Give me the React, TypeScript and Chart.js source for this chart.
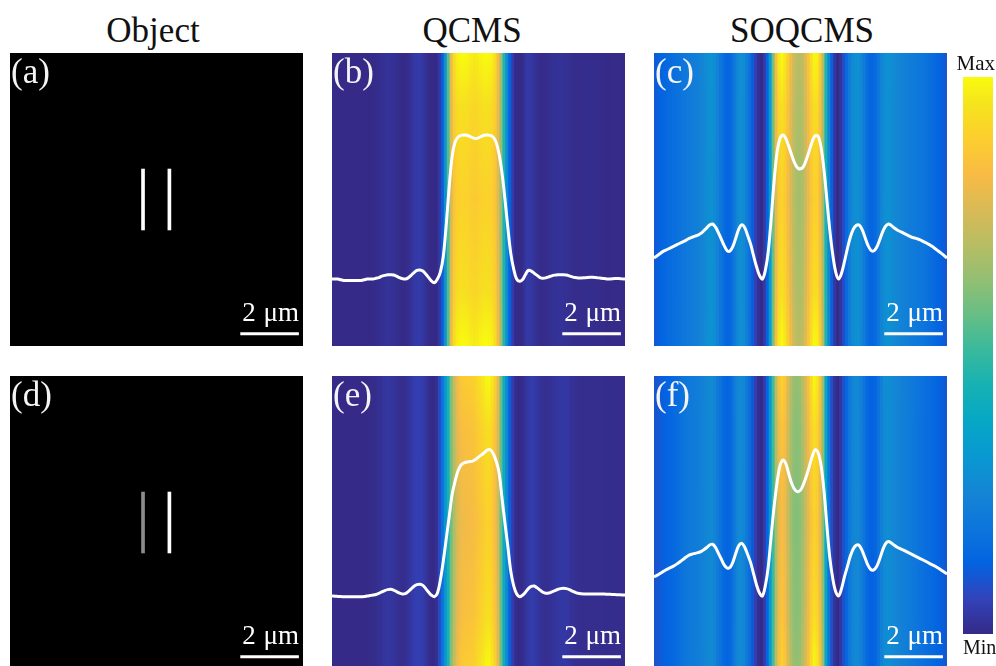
import React, { useEffect, useRef } from "react";
import { Chart, registerables } from "chart.js";

Chart.register(...registerables);

// ---------- DATA ----------
// lateral position in µm, sampled every 0.1 µm across the 10 µm field
const X_UM = [
  -5.0, -4.9, -4.8, -4.7, -4.6, -4.5, -4.4, -4.3, -4.2, -4.1,
  -4.0, -3.9, -3.8, -3.7, -3.6, -3.5, -3.4, -3.3, -3.2, -3.1,
  -3.0, -2.9, -2.8, -2.7, -2.6, -2.5, -2.4, -2.3, -2.2, -2.1,
  -2.0, -1.9, -1.8, -1.7, -1.6, -1.5, -1.4, -1.3, -1.2, -1.1,
  -1.0, -0.9, -0.8, -0.7, -0.6, -0.5, -0.4, -0.3, -0.2, -0.1,
  0.0, 0.1, 0.2, 0.3, 0.4, 0.5, 0.6, 0.7, 0.8, 0.9,
  1.0, 1.1, 1.2, 1.3, 1.4, 1.5, 1.6, 1.7, 1.8, 1.9,
  2.0, 2.1, 2.2, 2.3, 2.4, 2.5, 2.6, 2.7, 2.8, 2.9,
  3.0, 3.1, 3.2, 3.3, 3.4, 3.5, 3.6, 3.7, 3.8, 3.9,
  4.0, 4.1, 4.2, 4.3, 4.4, 4.5, 4.6, 4.7, 4.8, 4.9,
  5.0,
];

// normalized intensity profiles (0 = Min, 1 = Max)
const QCMS_TOP = [
  0, 0, 0, -0.005, -0.01, -0.01, -0.01, -0.01, -0.01, -0.01,
  -0.01, -0.005, 0, 0, 0, 0.005, 0.01, 0.02, 0.025, 0.03,
  0.03, 0.028, 0.02, 0.01, 0.003, 0, 0.008, 0.025, 0.045, 0.06,
  0.063, 0.055, 0.035, 0.01, -0.015, -0.025, 0, 0.05, 0.16, 0.38,
  0.64, 0.85, 0.95, 0.985, 0.997, 1.0, 0.998, 0.99, 0.98, 0.975,
  0.98, 0.99, 0.998, 1.0, 0.997, 0.985, 0.95, 0.87, 0.74, 0.56,
  0.36, 0.18, 0.07, 0, -0.015, -0.005, 0.03, 0.06, 0.055, 0.04,
  0.025, 0.01, 0.005, 0.008, 0.015, 0.022, 0.027, 0.03, 0.03, 0.03,
  0.028, 0.022, 0.015, 0.01, 0.007, 0.007, 0.008, 0.01, 0.012, 0.012,
  0.01, 0.008, 0.005, 0.003, 0, 0, 0.002, 0.004, 0.003, 0.001,
  0,
];

const SOQCMS_TOP = [
  0.146, 0.16, 0.175, 0.19, 0.2, 0.21, 0.22, 0.23, 0.24, 0.25,
  0.26, 0.27, 0.282, 0.29, 0.298, 0.305, 0.317, 0.335, 0.355, 0.375,
  0.382, 0.36, 0.32, 0.275, 0.23, 0.196, 0.195, 0.23, 0.29, 0.35,
  0.377, 0.355, 0.3, 0.24, 0.16, 0.085, 0.025, 0, 0.06, 0.19,
  0.42, 0.68, 0.88, 0.975, 1.0, 0.975, 0.92, 0.86, 0.805, 0.772,
  0.765, 0.78, 0.83, 0.89, 0.955, 0.995, 0.99, 0.915, 0.76, 0.55,
  0.34, 0.17, 0.05, 0, 0.04, 0.12, 0.21, 0.29, 0.345, 0.372,
  0.375, 0.345, 0.29, 0.235, 0.2, 0.195, 0.22, 0.27, 0.325, 0.365,
  0.382, 0.372, 0.355, 0.34, 0.33, 0.32, 0.31, 0.3, 0.29, 0.285,
  0.278, 0.27, 0.26, 0.25, 0.238, 0.225, 0.21, 0.195, 0.18, 0.163,
  0.146,
];

const QCMS_BOTTOM = [
  0, -0.002, -0.003, -0.004, -0.005, -0.006, -0.006, -0.006, -0.006, -0.006,
  -0.006, -0.004, 0, 0.003, 0.006, 0.01, 0.018, 0.028, 0.037, 0.043,
  0.045, 0.04, 0.03, 0.02, 0.014, 0.016, 0.03, 0.048, 0.066, 0.077,
  0.08, 0.072, 0.05, 0.025, 0.005, -0.005, 0.02, 0.11, 0.24, 0.39,
  0.54, 0.69, 0.78, 0.85, 0.89, 0.905, 0.912, 0.915, 0.918, 0.928,
  0.945, 0.96, 0.975, 0.993, 0.995, 0.97, 0.92, 0.84, 0.67, 0.5,
  0.34, 0.17, 0.07, 0.015, -0.005, 0.005, 0.025, 0.05, 0.065, 0.068,
  0.055, 0.04, 0.025, 0.018, 0.02, 0.028, 0.036, 0.044, 0.05, 0.052,
  0.05, 0.043, 0.033, 0.025, 0.018, 0.015, 0.014, 0.014, 0.014, 0.014,
  0.014, 0.014, 0.014, 0.013, 0.012, 0.011, 0.01, 0.009, 0.008, 0.007,
  0.007,
];

const SOQCMS_BOTTOM = [
  0.13, 0.14, 0.152, 0.165, 0.177, 0.187, 0.196, 0.207, 0.22, 0.235,
  0.25, 0.265, 0.278, 0.285, 0.29, 0.295, 0.302, 0.315, 0.33, 0.347,
  0.352, 0.33, 0.29, 0.25, 0.21, 0.19, 0.195, 0.235, 0.295, 0.345,
  0.358, 0.33, 0.28, 0.225, 0.15, 0.075, 0.02, 0, 0.07, 0.2,
  0.41, 0.61, 0.77, 0.885, 0.925, 0.9, 0.83, 0.765, 0.725, 0.71,
  0.72, 0.76, 0.815, 0.88, 0.95, 0.995, 0.975, 0.89, 0.72, 0.48,
  0.26, 0.12, 0.03, 0, 0.05, 0.13, 0.2, 0.27, 0.32, 0.345,
  0.345, 0.31, 0.26, 0.21, 0.18, 0.178, 0.2, 0.25, 0.31, 0.355,
  0.37, 0.36, 0.345, 0.332, 0.322, 0.313, 0.303, 0.293, 0.283, 0.273,
  0.263, 0.253, 0.243, 0.233, 0.222, 0.212, 0.202, 0.19, 0.177, 0.163,
  0.15,
];

// object: two slits (x positions in µm, extent in µm, brightness)
const OBJECT_X = [-0.46, 0.44];
const OBJECT_Y_RANGE = [-1.04, 1.04];
const OBJECT_TOP_LEVEL = [1, 1];
const OBJECT_BOTTOM_LEVEL = [0.55, 1];

// 2 µm scale bar
const SCALE_BAR_X = [2.86, 4.86];
const SCALE_BAR_Y = -4.58;

const COLUMN_TITLES = ["Object", "QCMS", "SOQCMS"];
const PANEL_LABELS = ["(a)", "(b)", "(c)", "(d)", "(e)", "(f)"];
const SCALE_LABEL = "2 \u03bcm";
const COLORBAR_RANGE = [0, 1];
const COLORBAR_LABELS = ["Max", "Min"];

// ---------- STYLE ----------
const PARULA: [number, number, number, number][] = [
  [0.0, 53, 42, 135],
  [0.0635, 50, 67, 186],
  [0.127, 3, 99, 225],
  [0.19, 13, 117, 220],
  [0.254, 20, 133, 212],
  [0.317, 9, 152, 209],
  [0.381, 6, 167, 198],
  [0.444, 21, 177, 180],
  [0.508, 56, 185, 158],
  [0.571, 101, 190, 134],
  [0.635, 146, 191, 115],
  [0.698, 183, 189, 100],
  [0.762, 217, 186, 86],
  [0.825, 248, 187, 68],
  [0.889, 252, 206, 46],
  [0.952, 245, 228, 29],
  [1.0, 249, 251, 14],
];

function parula(t: number): string {
  const v = Math.max(0, Math.min(1, t));
  for (let i = 1; i < PARULA.length; i++) {
    const a = PARULA[i - 1];
    const b = PARULA[i];
    if (v <= b[0]) {
      const f = (v - a[0]) / (b[0] - a[0]);
      const r = Math.round(a[1] + (b[1] - a[1]) * f);
      const g = Math.round(a[2] + (b[2] - a[2]) * f);
      const bl = Math.round(a[3] + (b[3] - a[3]) * f);
      return `rgb(${r},${g},${bl})`;
    }
  }
  const l = PARULA[PARULA.length - 1];
  return `rgb(${l[1]},${l[2]},${l[3]})`;
}

// image tone: slightly darker mid-tones than the plotted profile
function tone(v: number): number {
  return v - 0.09 * 4 * v * (1 - v);
}

const SERIF = "'Liberation Serif', 'Times New Roman', 'DejaVu Serif', serif";
const PANEL = 293;
const COL_LEFT = [10, 332, 654];
const ROW_TOP = [53, 376];
const TITLE_CX = [153, 472, 802];

const baseOptions = (yIMin: number, yIMax: number): any => ({
  responsive: false,
  maintainAspectRatio: false,
  animation: false,
  events: [],
  layout: { padding: 0 },
  plugins: {
    legend: { display: false },
    tooltip: { enabled: false },
    title: { display: false },
  },
  scales: {
    x: { type: "linear", min: -5, max: 5, display: false, offset: false },
    y: { type: "linear", min: -5, max: 5, display: false },
    yI: { type: "linear", min: yIMin, max: yIMax, display: false },
  },
});

function scaleBarDataset() {
  return {
    type: "line",
    data: SCALE_BAR_X.map((x) => ({ x, y: SCALE_BAR_Y })),
    xAxisID: "x",
    yAxisID: "y",
    borderColor: "#ffffff",
    borderWidth: 3,
    borderCapStyle: "butt",
    pointRadius: 0,
    order: 0,
  };
}

function ImagePanel(props: { left: number; top: number; profile: number[]; yMin: number; yMax: number }) {
  const ref = useRef<HTMLCanvasElement>(null);
  const { left, top, profile, yMin, yMax } = props;
  useEffect(() => {
    const canvas = ref.current;
    if (!canvas) return;
    const stripeFill = (ctx: any) => {
      if (ctx.type !== "data") return "#000";
      const raw = profile[ctx.dataIndex];
      const v = tone(Math.max(0, Math.min(1, raw)));
      const area = ctx.chart.chartArea;
      if (!area) return parula(v);
      const g = ctx.chart.ctx.createLinearGradient(0, area.top, 0, area.bottom);
      const v3 = v * v * v;
      g.addColorStop(0, parula(v));
      g.addColorStop(0.18, parula(v - 0.06 * v3));
      g.addColorStop(0.5, parula(v - 0.1 * v3));
      g.addColorStop(0.82, parula(v - 0.06 * v3));
      g.addColorStop(1, parula(v));
      return g;
    };
    const chart = new Chart(canvas, {
      type: "bar",
      data: {
        datasets: [
          {
            type: "line",
            data: X_UM.map((x, i) => ({ x, y: profile[i] })),
            xAxisID: "x",
            yAxisID: "yI",
            borderColor: "#ffffff",
            borderWidth: 3,
            pointRadius: 0,
            tension: 0.35,
            fill: false,
            order: 0,
          },
          scaleBarDataset(),
          {
            type: "bar",
            data: X_UM.map((x) => ({ x, y: [-5, 5] })),
            xAxisID: "x",
            yAxisID: "y",
            backgroundColor: stripeFill,
            borderWidth: 0,
            barPercentage: 1,
            categoryPercentage: 1,
            inflateAmount: 1,
            order: 5,
          },
        ] as any,
      },
      options: baseOptions(yMin, yMax),
    });
    return () => chart.destroy();
  }, []);
  return (
    <canvas
      ref={ref}
      width={PANEL}
      height={PANEL}
      style={{ position: "absolute", left, top, width: PANEL, height: PANEL, display: "block" }}
    />
  );
}

function ObjectPanel(props: { left: number; top: number; levels: number[] }) {
  const ref = useRef<HTMLCanvasElement>(null);
  const { left, top, levels } = props;
  useEffect(() => {
    const canvas = ref.current;
    if (!canvas) return;
    const chart = new Chart(canvas, {
      type: "bar",
      data: {
        datasets: [
          scaleBarDataset(),
          {
            type: "bar",
            data: OBJECT_X.map((x) => ({ x, y: [OBJECT_Y_RANGE[0], OBJECT_Y_RANGE[1]] })),
            xAxisID: "x",
            yAxisID: "y",
            backgroundColor: levels.map((l) => {
              const c = Math.round(255 * l);
              return `rgb(${c},${c},${c})`;
            }),
            borderWidth: 0,
            barThickness: 3,
            order: 5,
          },
        ] as any,
      },
      options: baseOptions(0, 1),
    });
    return () => chart.destroy();
  }, []);
  return (
    <canvas
      ref={ref}
      width={PANEL}
      height={PANEL}
      style={{ position: "absolute", left, top, width: PANEL, height: PANEL, background: "#000", display: "block" }}
    />
  );
}

function ColorBar() {
  const ref = useRef<HTMLCanvasElement>(null);
  useEffect(() => {
    const canvas = ref.current;
    if (!canvas) return;
    const fill = (ctx: any) => {
      const area = ctx.chart.chartArea;
      if (!area) return parula(0.5);
      const g = ctx.chart.ctx.createLinearGradient(0, area.bottom, 0, area.top);
      PARULA.forEach((s) => g.addColorStop(s[0], parula(s[0])));
      return g;
    };
    const chart = new Chart(canvas, {
      type: "bar",
      data: {
        labels: ["colorbar"],
        datasets: [
          {
            data: [[COLORBAR_RANGE[0], COLORBAR_RANGE[1]]],
            backgroundColor: fill,
            borderWidth: 0,
            barPercentage: 1,
            categoryPercentage: 1,
          },
        ] as any,
      },
      options: {
        responsive: false,
        maintainAspectRatio: false,
        animation: false,
        events: [],
        layout: { padding: 0 },
        plugins: { legend: { display: false }, tooltip: { enabled: false } },
        scales: {
          x: { display: false },
          y: { min: COLORBAR_RANGE[0], max: COLORBAR_RANGE[1], display: false },
        },
      } as any,
    });
    return () => chart.destroy();
  }, []);
  return (
    <canvas
      ref={ref}
      width={30}
      height={557}
      style={{ position: "absolute", left: 963, top: 77, width: 30, height: 557, display: "block" }}
    />
  );
}

export default function App() {
  const textBase: React.CSSProperties = {
    position: "absolute",
    fontFamily: SERIF,
    whiteSpace: "nowrap",
    margin: 0,
  };
  const profiles = [
    [null, QCMS_TOP, SOQCMS_TOP],
    [null, QCMS_BOTTOM, SOQCMS_BOTTOM],
  ];
  const yRanges = [
    [-0.465, 1.569],
    [-0.497, 1.497],
  ];
  return (
    <div
      style={{
        position: "fixed",
        left: 0,
        top: 0,
        width: 996,
        height: 666,
        background: "#ffffff",
        overflow: "hidden",
      }}
    >
      {ROW_TOP.map((top, r) =>
        COL_LEFT.map((left, c) =>
          c === 0 ? (
            <ObjectPanel key={`p${r}${c}`} left={left} top={top} levels={r === 0 ? OBJECT_TOP_LEVEL : OBJECT_BOTTOM_LEVEL} />
          ) : (
            <ImagePanel
              key={`p${r}${c}`}
              left={left}
              top={top}
              profile={profiles[r][c] as number[]}
              yMin={yRanges[r][0]}
              yMax={yRanges[r][1]}
            />
          )
        )
      )}
      <ColorBar />

      {COLUMN_TITLES.map((t, i) => (
        <div
          key={t}
          style={{
            ...textBase,
            left: TITLE_CX[i] - 120,
            width: 240,
            top: 12.7,
            textAlign: "center",
            fontSize: 35,
            lineHeight: "35px",
            color: "#111",
          }}
        >
          {t}
        </div>
      ))}

      {PANEL_LABELS.map((t, i) => {
        const r = Math.floor(i / 3);
        const c = i % 3;
        return (
          <div
            key={t}
            style={{
              ...textBase,
              left: COL_LEFT[c] + 1,
              top: ROW_TOP[r] + 0.5,
              fontSize: 35,
              lineHeight: "35px",
              color: "#f4f4f4",
            }}
          >
            {t}
          </div>
        );
      })}

      {ROW_TOP.map((top, r) =>
        COL_LEFT.map((left, c) => (
          <div
            key={`s${r}${c}`}
            style={{
              ...textBase,
              left: left + PANEL - 4 - 120,
              width: 120,
              top: top + 246,
              textAlign: "right",
              fontSize: 27,
              lineHeight: "27px",
              wordSpacing: 1,
              color: "#ffffff",
            }}
          >
            {SCALE_LABEL}
          </div>
        ))
      )}

      <div
        style={{
          ...textBase,
          left: 895,
          width: 100,
          top: 53,
          textAlign: "right",
          fontSize: 21,
          lineHeight: "21px",
          color: "#111",
        }}
      >
        {COLORBAR_LABELS[0]}
      </div>
      <div
        style={{
          ...textBase,
          left: 963,
          top: 637,
          fontSize: 20,
          lineHeight: "20px",
          color: "#111",
        }}
      >
        {COLORBAR_LABELS[1]}
      </div>
    </div>
  );
}
